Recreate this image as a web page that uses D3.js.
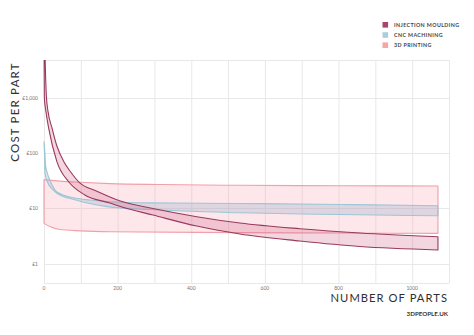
<!DOCTYPE html>
<html>
<head>
<meta charset="utf-8">
<script src="https://cdn.jsdelivr.net/npm/d3@7"></script>
<style>
  body { margin: 0; background: #fff; }
  svg { display: block; font-family: Lato, "Open Sans", sans-serif; }
</style>
</head>
<body>
<svg id="chart"></svg>
<script>
const width = 474;
const height = 335;

// legend + series names
const seriesNames = ["INJECTION MOULDING", "CNC MACHINING", "3D PRINTING"];

// [number of parts, cost per part]
const injectionHigh = [[3, 5200], [4.5, 2200], [6.5, 1050], [11, 560], [22, 280], [35, 134], [54, 70], [71, 47], [98, 28.7],
  [139, 21], [179, 16.1], [212, 13.3], [296, 10], [415, 7.1], [532, 5.45], [695, 4.3], [858, 3.6], [1070, 3.08]];
const injectionLow = [[0.3, 5200], [0.9, 1000], [5.4, 556], [12.8, 279], [35, 70], [67, 30.3], [111, 17.5],
  [179, 12.5], [212, 10.6], [296, 7.6], [415, 4.8], [532, 3.45], [695, 2.58], [858, 2.05], [1070, 1.78]];

const cncHigh = [[0, 160], [2.7, 92], [4.1, 60.7], [9, 43.5], [18, 30.3], [35, 19.8], [84, 15.4], [125, 14.2],
  [179, 13.2], [288, 12.6], [532, 12.3], [804, 11.8], [1070, 11.2]];
const cncLow = [[0, 152], [1.4, 92], [2.7, 43.5], [9, 30.3], [25, 21.5], [49, 16.7], [71, 15.1], [111, 12.8],
  [171, 10.8], [288, 9.55], [532, 8.36], [804, 7.76], [1070, 7.38]];

const printHigh = [[0, 33.2], [43, 31.2], [98, 29.7], [179, 28.1], [315, 27], [532, 26.2], [804, 25.7], [1070, 25.4]];
const printLow = [[0, 5.38], [16, 4.7], [43, 4.16], [98, 3.94], [179, 3.8], [532, 3.66], [804, 3.6], [1070, 3.55]];

const xTicks = [0, 200, 400, 600, 800, 1000];
const xGrid = d3.range(0, 1101, 100);
const yTicks = [1, 10, 100, 1000];
const yTickLabels = ["£1", "£10", "£100", "£1,000"];

const svg = d3.select("#chart").attr("width", width).attr("height", height);

const x = d3.scaleLinear().domain([0, 1100]).range([44, 449]);
const y = d3.scaleLog().domain([0.45, 4800]).range([283, 60]);

// grid
const grid = svg.append("g").attr("stroke", "#e8e8e8").attr("stroke-width", 1);
grid.selectAll(".v").data(xGrid).join("line")
  .attr("x1", (d) => x(d) + 0.5).attr("x2", (d) => x(d) + 0.5)
  .attr("y1", y.range()[1]).attr("y2", y.range()[0]);
grid.selectAll(".h").data(yTicks.concat(y.domain())).join("line")
  .attr("x1", x.range()[0]).attr("x2", x.range()[1])
  .attr("y1", (d) => Math.round(y(d)) + 0.5).attr("y2", (d) => Math.round(y(d)) + 0.5);

// tick labels
svg.append("g").selectAll("text").data(yTicks).join("text")
  .attr("x", 38).attr("y", (d) => y(d) + 1.8)
  .attr("text-anchor", "end").attr("font-size", 5).attr("fill", "#777")
  .text((d, i) => yTickLabels[i]);

svg.append("g").selectAll("text").data(xTicks).join("text")
  .attr("x", (d) => x(d)).attr("y", 290.3)
  .attr("text-anchor", "middle").attr("font-size", 5).attr("fill", "#777")
  .text((d) => d);

// bands
svg.append("clipPath").attr("id", "plot")
  .append("rect").attr("x", 40).attr("y", 60).attr("width", 420).attr("height", 224);

const line = d3.line()
  .x((d) => x(d[0]))
  .y((d) => y(d[1]))
  .curve(d3.curveMonotoneX);

const bands = [
  { hi: printHigh, lo: printLow, fill: "#f7a3b0", op: 0.26, stroke: "#f0a0a8" },
  { hi: cncHigh, lo: cncLow, fill: "#9fb0c8", op: 0.33, stroke: "#9dc6d6" },
  { hi: injectionHigh, lo: injectionLow, fill: "#d2537c", op: 0.24, stroke: "#983a5e" }
];

const plot = svg.append("g").attr("clip-path", "url(#plot)");

bands.forEach((b) => {
  const outline = line(b.hi) + line(b.lo.slice().reverse()).replace(/^M/, "L") + "Z";
  plot.append("path")
    .attr("d", outline)
    .attr("fill", b.fill)
    .attr("fill-opacity", b.op)
    .attr("stroke", b.stroke)
    .attr("stroke-width", 1.1)
    .attr("stroke-linejoin", "round");
});

// legend
const legendColors = ["#a8456c", "#a9cfdd", "#f5a6ab"];
const legend = svg.append("g").attr("transform", "translate(382.5, 22)");
seriesNames.forEach((name, i) => {
  legend.append("rect")
    .attr("x", 0).attr("y", i * 10.2)
    .attr("width", 5.6).attr("height", 5.6)
    .attr("fill", legendColors[i]);
  legend.append("text")
    .attr("x", 11.5).attr("y", i * 10.2 + 4.7)
    .attr("font-size", 5.3).attr("font-weight", 700)
    .attr("letter-spacing", 0.4)
    .attr("fill", "#444")
    .text(name);
});

// titles
svg.append("text")
  .attr("transform", "translate(18.5, 112) rotate(-90)")
  .attr("text-anchor", "middle")
  .attr("font-size", 11.5).attr("letter-spacing", 1.2)
  .attr("fill", "#2f2f2f")
  .text("COST PER PART");

svg.append("text")
  .attr("x", 448).attr("y", 302)
  .attr("text-anchor", "end")
  .attr("font-size", 11.2).attr("letter-spacing", 1.05)
  .attr("fill", "#2f2f2f")
  .text("NUMBER OF PARTS");

svg.append("text")
  .attr("x", 448).attr("y", 316.3)
  .attr("text-anchor", "end")
  .attr("font-size", 6.2).attr("font-weight", 700)
  .attr("fill", "#333")
  .text("3DPEOPLE.UK");
</script>
</body>
</html>
